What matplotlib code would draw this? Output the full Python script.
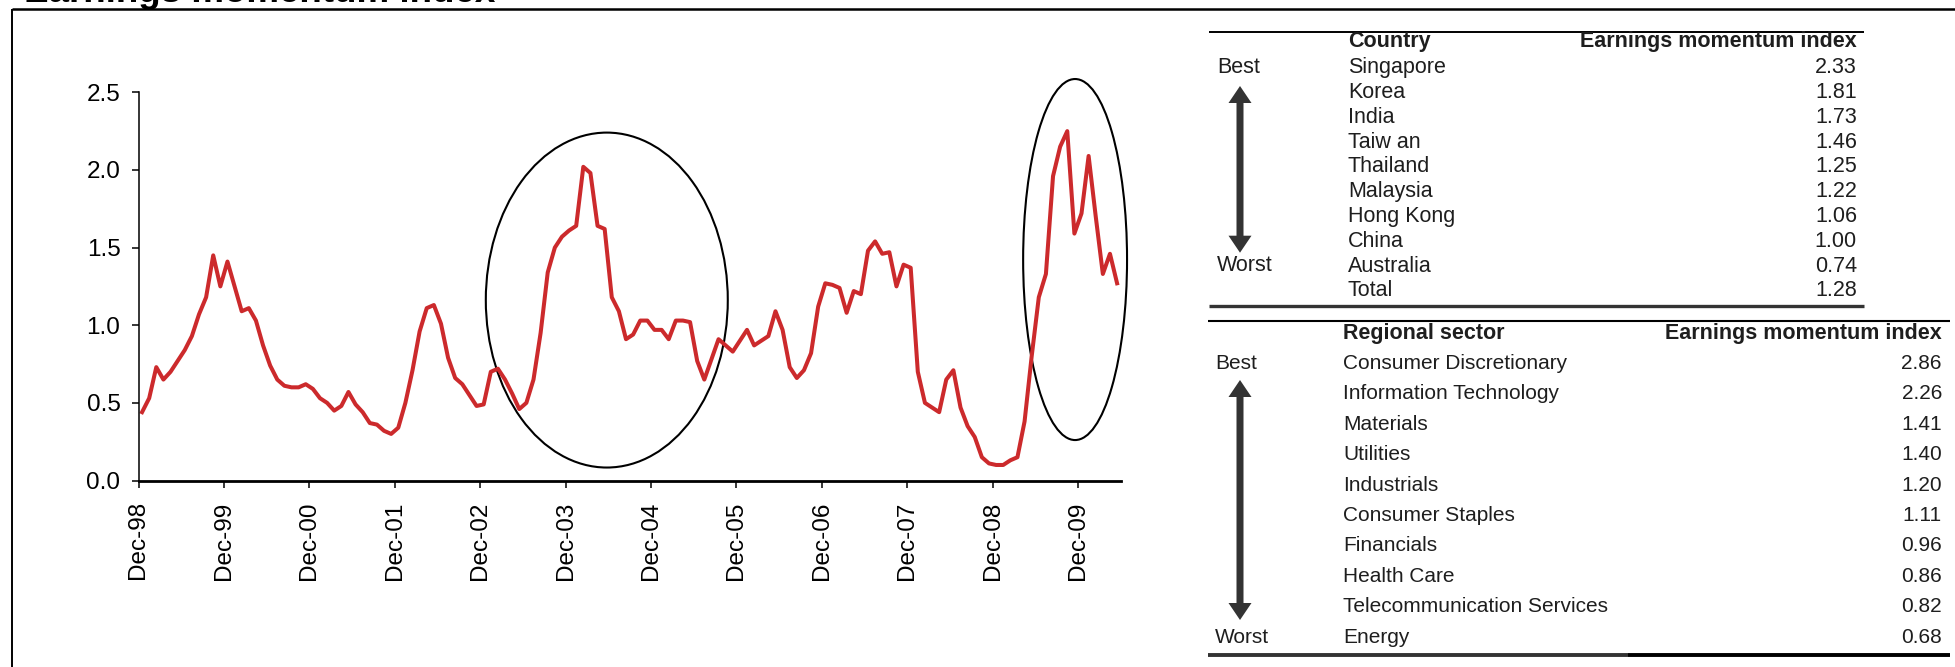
import matplotlib
matplotlib.use("Agg")
import matplotlib.pyplot as plt
from matplotlib.patches import Ellipse, Polygon
import numpy as np

plt.rcParams['font.family'] = ['Liberation Sans', 'DejaVu Sans']

# monthly earnings momentum index, Dec-98 to May-10
momentum = [
    0.44, 0.53, 0.73, 0.65, 0.70, 0.77, 0.84, 0.93, 1.07, 1.18, 1.45, 1.25,
    1.41, 1.25, 1.09, 1.11, 1.03, 0.87, 0.74, 0.65, 0.61, 0.60, 0.60, 0.62,
    0.59, 0.53, 0.50, 0.45, 0.48, 0.57, 0.49, 0.44, 0.37, 0.36, 0.32, 0.30,
    0.34, 0.50, 0.71, 0.96, 1.11, 1.13, 1.01, 0.79, 0.66, 0.62, 0.55, 0.48,
    0.49, 0.70, 0.72, 0.65, 0.56, 0.46, 0.50, 0.65, 0.95, 1.34, 1.50, 1.57,
    1.61, 1.64, 2.02, 1.98, 1.64, 1.62, 1.18, 1.09, 0.91, 0.94, 1.03, 1.03,
    0.97, 0.97, 0.91, 1.03, 1.03, 1.02, 0.77, 0.65, 0.78, 0.91, 0.87, 0.83,
    0.90, 0.97, 0.87, 0.90, 0.93, 1.09, 0.97, 0.73, 0.66, 0.71, 0.82, 1.12,
    1.27, 1.26, 1.24, 1.08, 1.22, 1.20, 1.48, 1.54, 1.46, 1.47, 1.25, 1.39,
    1.37, 0.70, 0.50, 0.47, 0.44, 0.65, 0.71, 0.47, 0.35, 0.28, 0.15, 0.11,
    0.10, 0.10, 0.13, 0.15, 0.38, 0.80, 1.18, 1.33, 1.96, 2.15, 2.25, 1.59,
    1.72, 2.09, 1.70, 1.33, 1.46, 1.27,
]
xLabels = ["Dec-98", "Dec-99", "Dec-00", "Dec-01", "Dec-02", "Dec-03",
           "Dec-04", "Dec-05", "Dec-06", "Dec-07", "Dec-08", "Dec-09"]
yTicks = [0.0, 0.5, 1.0, 1.5, 2.0, 2.5]

countries = ["Singapore", "Korea", "India", "Taiw an", "Thailand", "Malaysia",
             "Hong Kong", "China", "Australia", "Total"]
countryScores = [2.33, 1.81, 1.73, 1.46, 1.25, 1.22, 1.06, 1.00, 0.74, 1.28]

sectors = ["Consumer Discretionary", "Information Technology", "Materials",
           "Utilities", "Industrials", "Consumer Staples", "Financials",
           "Health Care", "Telecommunication Services", "Energy"]
sectorScores = [2.86, 2.26, 1.41, 1.40, 1.20, 1.11, 0.96, 0.86, 0.82, 0.68]

W, H = 1956, 667
fig = plt.figure(figsize=(W / 100, H / 100), dpi=100)

# line chart, positioned in pixels
ax = fig.add_axes([138.5 / W, 1 - 480.5 / H, (1121 - 138.5) / W, (480.5 - 92.3) / H])
x = np.arange(len(momentum))
ax.plot(x, momentum, color='#CC2A2C', lw=2.9)

# highlight the two spikes
ax.add_patch(Ellipse((65.3, 1.162), 34, 2.157, fill=False, ec='black', lw=1.5, clip_on=False))
ax.add_patch(Ellipse((131.1, 1.423), 14.6, 2.325, fill=False, ec='black', lw=1.5, clip_on=False))

ax.set_xlim(-0.5, 137.55)
ax.set_ylim(0, 2.5)
ax.set_xticks(np.arange(len(xLabels)) * 12 - 0.5)
ax.set_xticklabels(xLabels, rotation=90)
ax.set_yticks(yTicks)
ax.set_yticklabels([f"{v:.1f}" for v in yTicks])
ax.tick_params(labelsize=17.5, length=5, width=1.1, pad=8, direction='out', colors='black')
ax.tick_params(axis='x', pad=10)
ax.spines[['top', 'right']].set_visible(False)
ax.spines['left'].set_linewidth(1.1)
ax.spines['bottom'].set_linewidth(2.0)

# overlay in pixel coordinates for the frame and the two tables
ov = fig.add_axes([0, 0, 1, 1])
ov.set_xlim(0, W)
ov.set_ylim(H, 0)
ov.axis('off')

ov.plot([12, W], [8.5, 8.5], color='black', lw=1.8, solid_capstyle='butt')
ov.plot([12, 12], [8.5, H], color='black', lw=1.4, solid_capstyle='butt')
ov.text(24, 2, "Earnings momentum index", fontsize=26.5, fontweight='bold',
        ha='left', va='baseline')

textColor = '#1e1e1e'
arrowColor = '#333333'


def updown_arrow(xc, top, bottom):
    hw, hl, sw = 11.5, 17, 3.5
    pts = [(xc, top), (xc + hw, top + hl), (xc + sw, top + hl), (xc + sw, bottom - hl),
           (xc + hw, bottom - hl), (xc, bottom), (xc - hw, bottom - hl), (xc - sw, bottom - hl),
           (xc - sw, top + hl), (xc - hw, top + hl)]
    ov.add_patch(Polygon(pts, closed=True, facecolor=arrowColor, edgecolor='none'))


# country table
fs = 15.5
ov.plot([1209, 1864], [31.7, 31.7], color='black', lw=1.4, solid_capstyle='butt')
ov.text(1348, 41.7, "Country", fontsize=fs, fontweight='bold', color=textColor, va='center')
ov.text(1857, 41.7, "Earnings momentum index", fontsize=fs, fontweight='bold',
        color=textColor, va='center', ha='right')
for i, (name, score) in enumerate(zip(countries, countryScores)):
    y = 67.7 + 24.8 * i
    ov.text(1348, y, name, fontsize=fs, color=textColor, va='center')
    ov.text(1857, y, f"{score:.2f}", fontsize=fs, color=textColor, va='center', ha='right')
ov.text(1217, 67.7, "Best", fontsize=fs, color=textColor, va='center')
ov.text(1217, 265.9, "Worst", fontsize=fs, color=textColor, va='center')
updown_arrow(1240, 86, 252.7)
ov.plot([1209, 1864], [306, 306], color='#333333', lw=2.4, solid_capstyle='butt')

# sector table
fs = 15
ov.plot([1208, 1950], [321, 321], color='black', lw=1.5, solid_capstyle='butt')
ov.text(1343, 333.5, "Regional sector", fontsize=15.5, fontweight='bold', color=textColor, va='center')
ov.text(1942, 333.5, "Earnings momentum index", fontsize=15.5, fontweight='bold',
        color=textColor, va='center', ha='right')
for i, (name, score) in enumerate(zip(sectors, sectorScores)):
    y = 363.5 + 30.4 * i
    ov.text(1343, y, name, fontsize=fs, color=textColor, va='center')
    ov.text(1942, y, f"{score:.2f}", fontsize=fs, color=textColor, va='center', ha='right')
ov.text(1215, 363.5, "Best", fontsize=fs, color=textColor, va='center')
ov.text(1215, 637.1, "Worst", fontsize=fs, color=textColor, va='center')
updown_arrow(1240, 380, 620)
ov.plot([1208, 1628], [655, 655], color='#333333', lw=2.8, solid_capstyle='butt')
ov.plot([1628, 1950], [655, 655], color='black', lw=2.8, solid_capstyle='butt')

fig.savefig("out.png", dpi=100)
